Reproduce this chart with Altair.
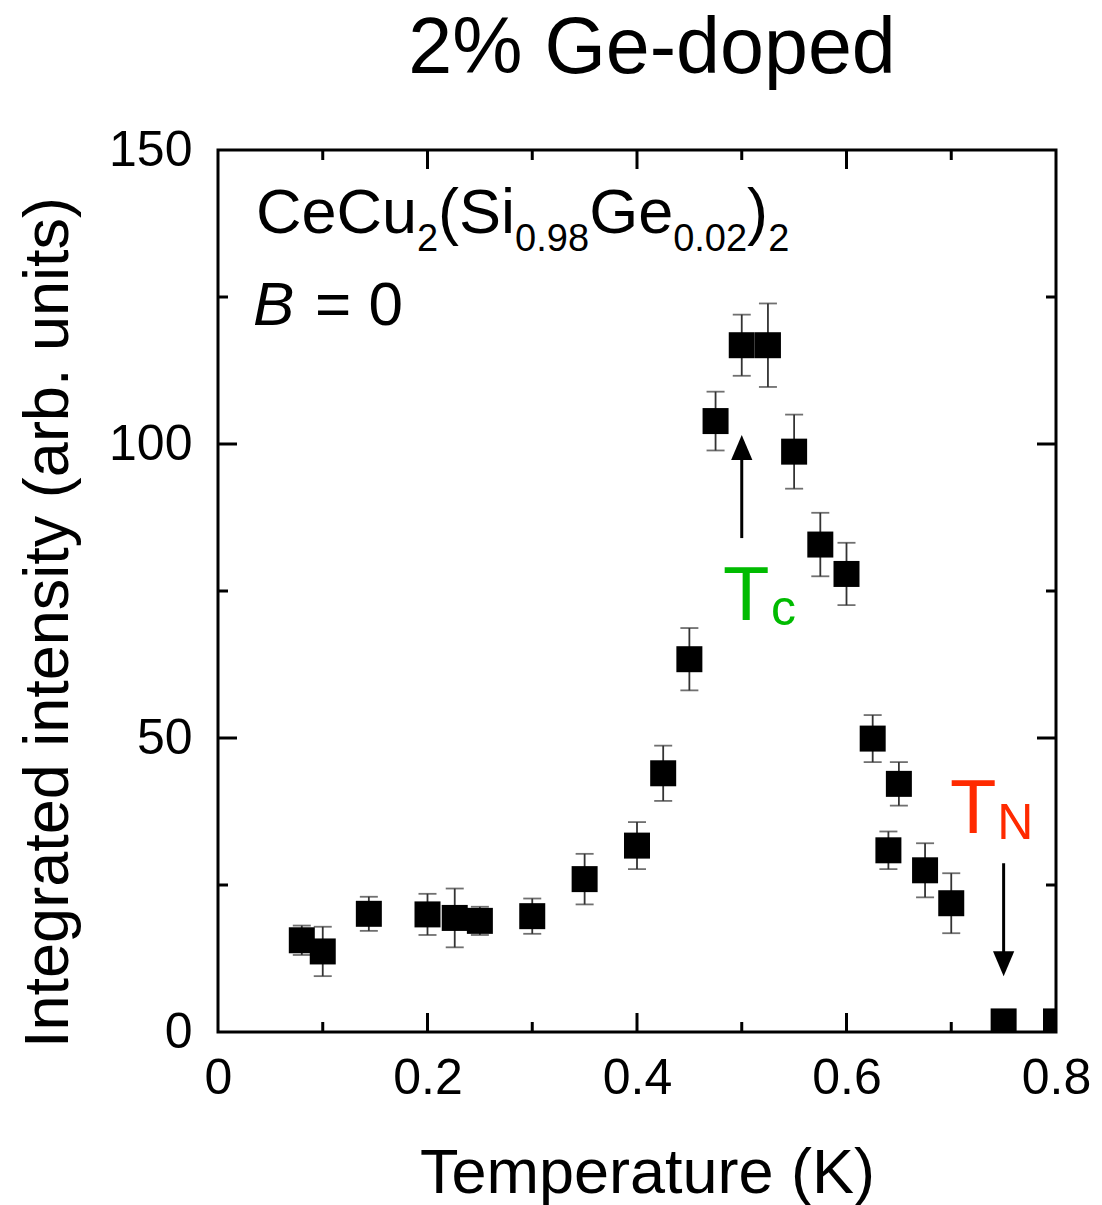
import altair as alt
import pandas as pd

# ---------------- data ----------------
temperature = [0.08, 0.10, 0.144, 0.20, 0.226, 0.25, 0.30, 0.35, 0.40, 0.425, 0.45, 0.475,
               0.50, 0.525, 0.55, 0.575, 0.60, 0.625, 0.64, 0.65, 0.675, 0.70, 0.75, 0.80]
intensity = [15.6, 13.7, 20.1, 20.0, 19.4, 18.9, 19.7, 26.0, 31.7, 44.0, 63.4, 103.9,
             116.8, 116.8, 98.7, 82.9, 77.9, 49.9, 30.9, 42.2, 27.5, 21.9, 1.8, 1.8]
error = [2.5, 4.2, 2.9, 3.5, 5.0, 2.4, 3.0, 4.3, 4.0, 4.7, 5.3, 5.0,
         5.2, 7.1, 6.3, 5.4, 5.3, 4.0, 3.2, 3.7, 4.6, 5.1, 1.0, 1.0]

x_labels = [0, 0.2, 0.4, 0.6, 0.8]
y_labels = [0, 50, 100, 150]
x_major = [0.2, 0.4, 0.6]
x_minor = [0.1, 0.3, 0.5, 0.7]
y_major = [50, 100]
y_minor = [25, 75, 125]

title_text = "2% Ge-doped"

# annotation text segments (data coordinates)
formula_text = ["CeCu", "2", "(Si", "0.98", "Ge", "0.02", ")", "2"]
formula_T = [0.0363, 0.1900, 0.2101, 0.2836, 0.3543, 0.4345, 0.5051, 0.5252]
formula_I = [135.9, 132.8, 135.9, 132.8, 135.9, 132.8, 135.9, 132.8]
formula_fs = [63, 38, 63, 38, 63, 38, 63, 38]

label_text = ["T", "c", "T", "N"]
label_T = [0.4821, 0.5279, 0.6988, 0.7440]
label_I = [70.1, 69.2, 33.8, 32.8]
label_fs = [76, 50, 76, 50]
label_col = ["#00bb00", "#00bb00", "#ff2a00", "#ff2a00"]

arrow_T = [0.50, 0.75]
arrow_from = [84.0, 28.7]
arrow_to = [98.0, 13.2]
head_I_up = [99.4]
head_I_down = [11.6]

# ---------------- layout ----------------
W, H = 838, 882
FONT = "Liberation Sans"
MAJ, MIN = 19, 10

xs = alt.Scale(domain=[0, 0.8], nice=False, zero=False)
ys = alt.Scale(domain=[0, 150], nice=False, zero=False)

xaxis = alt.Axis(title="Temperature (K)", values=x_labels, format="~g", grid=False,
                 ticks=False, tickSize=0, domain=False, labelFlush=False, labelOverlap=False,
                 labelFont=FONT, labelFontSize=50, labelColor="black", labelPadding=21,
                 titleFont=FONT, titleFontSize=63, titleFontWeight="normal", titleColor="black",
                 titleX=429, titleY=160, titleBaseline="alphabetic", titleAlign="center")
yaxis = alt.Axis(title="Integrated intensity (arb. units)", values=y_labels, format="d",
                 grid=False, ticks=False, tickSize=0, domain=False, labelFlush=False,
                 labelOverlap=False, labelFont=FONT, labelFontSize=50, labelColor="black",
                 labelPadding=26, titleFont=FONT, titleFontSize=63, titleFontWeight="normal",
                 titleColor="black", titleX=-170, titleY=472, titleAngle=270,
                 titleAlign="center", titleBaseline="middle")

X = alt.X("T:Q", scale=xs, axis=xaxis)
Y = alt.Y("I:Q", scale=ys, axis=yaxis)

df = pd.DataFrame({"T": temperature, "I": intensity, "err": error})
df["lo"] = df["I"] - df["err"]
df["hi"] = df["I"] + df["err"]
caps = pd.concat([pd.DataFrame({"T": df["T"], "I": df["lo"]}),
                  pd.DataFrame({"T": df["T"], "I": df["hi"]})])

base = alt.Chart(df)

errbars = base.mark_rule(color="#333333", strokeWidth=1.8, clip=True).encode(
    x=X, y=alt.Y("lo:Q", scale=ys, axis=yaxis), y2="hi:Q")
errcaps = alt.Chart(caps).mark_tick(orient="horizontal", size=18, thickness=1.8,
                                    color="#333333", clip=True).encode(x=X, y=Y)
squares = base.mark_square(size=676, color="black", opacity=1, clip=True).encode(x=X, y=Y)

# ticks (inward, all four sides)
def xticks(vals, length):
    d = pd.DataFrame({"T": vals})
    bot = alt.Chart(d).mark_rule(color="black", strokeWidth=3).encode(
        x=X, y=alt.value(H), y2=alt.value(H - length))
    top = alt.Chart(d).mark_rule(color="black", strokeWidth=3).encode(
        x=X, y=alt.value(0), y2=alt.value(length))
    return [bot, top]

def yticks(vals, length):
    d = pd.DataFrame({"I": vals})
    left = alt.Chart(d).mark_rule(color="black", strokeWidth=3).encode(
        y=Y, x=alt.value(0), x2=alt.value(length))
    right = alt.Chart(d).mark_rule(color="black", strokeWidth=3).encode(
        y=Y, x=alt.value(W), x2=alt.value(W - length))
    return [left, right]

tick_layers = xticks(x_major, MAJ) + xticks(x_minor, MIN) + yticks(y_major, MAJ) + yticks(y_minor, MIN)

# title as a text mark above the plot
title = alt.Chart(pd.DataFrame({"txt": [title_text]})).mark_text(
    align="center", baseline="alphabetic", font=FONT, fontSize=79, color="black").encode(
    x=alt.value(434), y=alt.value(-77), text="txt:N")

# formula text
fdf = pd.DataFrame({"T": formula_T, "I": formula_I, "txt": formula_text, "fs": formula_fs})
formula = alt.Chart(fdf).mark_text(align="left", baseline="alphabetic", font=FONT,
                                   color="black").encode(
    x=X, y=Y, text="txt:N", size=alt.Size("fs:Q", scale=None))

bdf1 = pd.DataFrame({"T": [0.0334], "I": [120.2], "txt": ["B"]})
bdf2 = pd.DataFrame({"T": [0.0926], "I": [120.2], "txt": ["= 0"]})
b_italic = alt.Chart(bdf1).mark_text(align="left", baseline="alphabetic", font=FONT,
                                     fontStyle="italic", fontSize=62, color="black").encode(
    x=X, y=Y, text="txt:N")
b_rest = alt.Chart(bdf2).mark_text(align="left", baseline="alphabetic", font=FONT,
                                   fontSize=62, color="black").encode(x=X, y=Y, text="txt:N")

ldf = pd.DataFrame({"T": label_T, "I": label_I, "txt": label_text, "fs": label_fs, "col": label_col})
labels = alt.Chart(ldf).mark_text(align="left", baseline="alphabetic", font=FONT).encode(
    x=X, y=Y, text="txt:N", size=alt.Size("fs:Q", scale=None),
    color=alt.Color("col:N", scale=None))

adf = pd.DataFrame({"T": arrow_T, "I": arrow_from, "I2": arrow_to})
arrows = alt.Chart(adf).mark_rule(color="black", strokeWidth=3).encode(x=X, y=Y, y2="I2:Q")
head_up = alt.Chart(pd.DataFrame({"T": [arrow_T[0]], "I": head_I_up})).mark_point(
    shape="M0,-1L0.85,1L-0.85,1Z", filled=True, size=625, color="black", opacity=1,
    strokeWidth=0).encode(x=X, y=Y)
head_down = alt.Chart(pd.DataFrame({"T": [arrow_T[1]], "I": head_I_down})).mark_point(
    shape="M0,1L0.85,-1L-0.85,-1Z", filled=True, size=625, color="black", opacity=1,
    strokeWidth=0).encode(x=X, y=Y)

chart = alt.layer(
    errbars, errcaps, squares, *tick_layers, title, formula, b_italic, b_rest, labels,
    arrows, head_up, head_down
).properties(
    width=W, height=H,
    padding={"left": 218, "top": 150, "right": 46, "bottom": 173},
    autosize=alt.AutoSizeParams(type="none"),
).configure(
    background="white",
    view=alt.ViewConfig(stroke="black", strokeWidth=3),
)

chart.save("out.html", embed_options={"renderer": "svg", "actions": False})
